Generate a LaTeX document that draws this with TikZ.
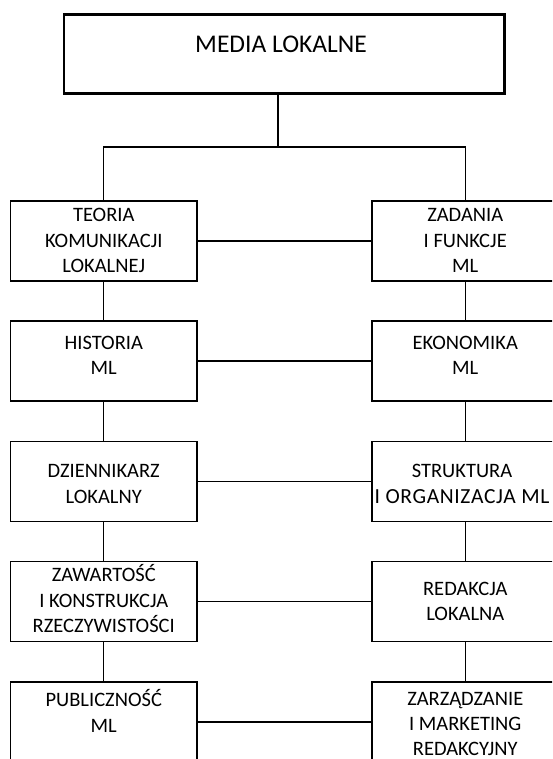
\documentclass[tikz,border=0pt]{standalone}
\usepackage{fontspec}
\setmainfont{Carlito}
\usetikzlibrary{calc}

% stacked, centred lines; the base anchor sits on the first line's baseline
\newcommand{\stacklines}[1]{\begin{tabular}[t]{@{}c@{}}#1\end{tabular}}

\tikzset{
  unitbox/.style={draw, line width=1.1pt, minimum width=186.5pt,
    minimum height=80pt, inner sep=0pt},
  headbox/.style={draw, line width=2.8pt, minimum width=440.2pt,
    minimum height=78.6pt, inner sep=0pt},
  boxlabel/.style={anchor=base, inner sep=0pt,
    font=\fontsize{20.5}{25.3}\selectfont},
  headlabel/.style={anchor=base, inner sep=0pt,
    font=\fontsize{25.5}{30}\selectfont},
  link/.style={line width=1.1pt},
}

\begin{document}
\begin{tikzpicture}[x=1pt, y=-1pt]
  \useasboundingbox (0,0) rectangle (552,759);
  \clip (0,0) rectangle (552,759);

  % head of the tree
  \node[headbox] (top) at (284.1,54) {};
  \node[headlabel] (toptext) at (281,52.7) {MEDIA LOKALNE};

  % two columns of subject boxes
  \node[unitbox] (l1) at (103.75,241)   {};
  \node[unitbox] (r1) at (465.25,241)   {};
  \node[unitbox] (l2) at (103.75,361)   {};
  \node[unitbox] (r2) at (465.25,361)   {};
  \node[unitbox] (l3) at (103.75,481.3) {};
  \node[unitbox] (r3) at (465.25,481.3) {};
  \node[unitbox] (l4) at (103.75,601.6) {};
  \node[unitbox] (r4) at (465.25,601.6) {};
  \node[unitbox] (l5) at (103.75,722)   {};
  \node[unitbox] (r5) at (465.25,722)   {};

  % box captions
  \node[boxlabel] (l1t) at (l1 |- 0,221.7) {\stacklines{TEORIA\\KOMUNIKACJI\\LOKALNEJ}};
  \node[boxlabel] (r1t) at (r1 |- 0,221.7) {\stacklines{ZADANIA\\I FUNKCJE\\ML}};
  \node[boxlabel] (l2t) at (l2 |- 0,349.3) {\stacklines{HISTORIA\\ML}};
  \node[boxlabel] (r2t) at (r2 |- 0,349.3) {\stacklines{EKONOMIKA\\ML}};
  \node[boxlabel] (l3t) at (l3 |- 0,477.7) {\stacklines{DZIENNIKARZ\\LOKALNY}};
  \node[boxlabel] (r3t) at (462,477.7) {\stacklines{STRUKTURA\\{\fontsize{21.5}{25.3}\selectfont\addfontfeature{LetterSpace=3}I ORGANIZACJA ML}}};
  \node[boxlabel] (l4t) at (l4 |- 0,581.7) {\stacklines{ZAWARTOŚĆ\\I KONSTRUKCJA\\RZECZYWISTOŚCI}};
  \node[boxlabel] (r4t) at (r4 |- 0,595)   {\stacklines{REDAKCJA\\LOKALNA}};
  \node[boxlabel] (l5t) at (l5 |- 0,706.7) {\stacklines{PUBLICZNOŚĆ\\ML}};
  \node[boxlabel] (r5t) at (r5 |- 0,705)   {\stacklines{ZARZĄDZANIE\\I MARKETING\\REDAKCYJNY}};

  % branching from the head into both columns
  \coordinate (bus) at (278,147);
  \draw[link] (top.south -| bus) -- (bus);
  \draw[link] (l1.north) |- (bus) -| (r1.north);

  % column chains
  \foreach \a/\b in {l1/l2, l2/l3, l3/l4, l4/l5, r1/r2, r2/r3, r3/r4, r4/r5}
    \draw[link] (\a.south) -- (\b.north);

  % cross links between the columns
  \foreach \i in {1,...,5}
    \draw[link] (l\i.east) -- (r\i.west);
\end{tikzpicture}
\end{document}
